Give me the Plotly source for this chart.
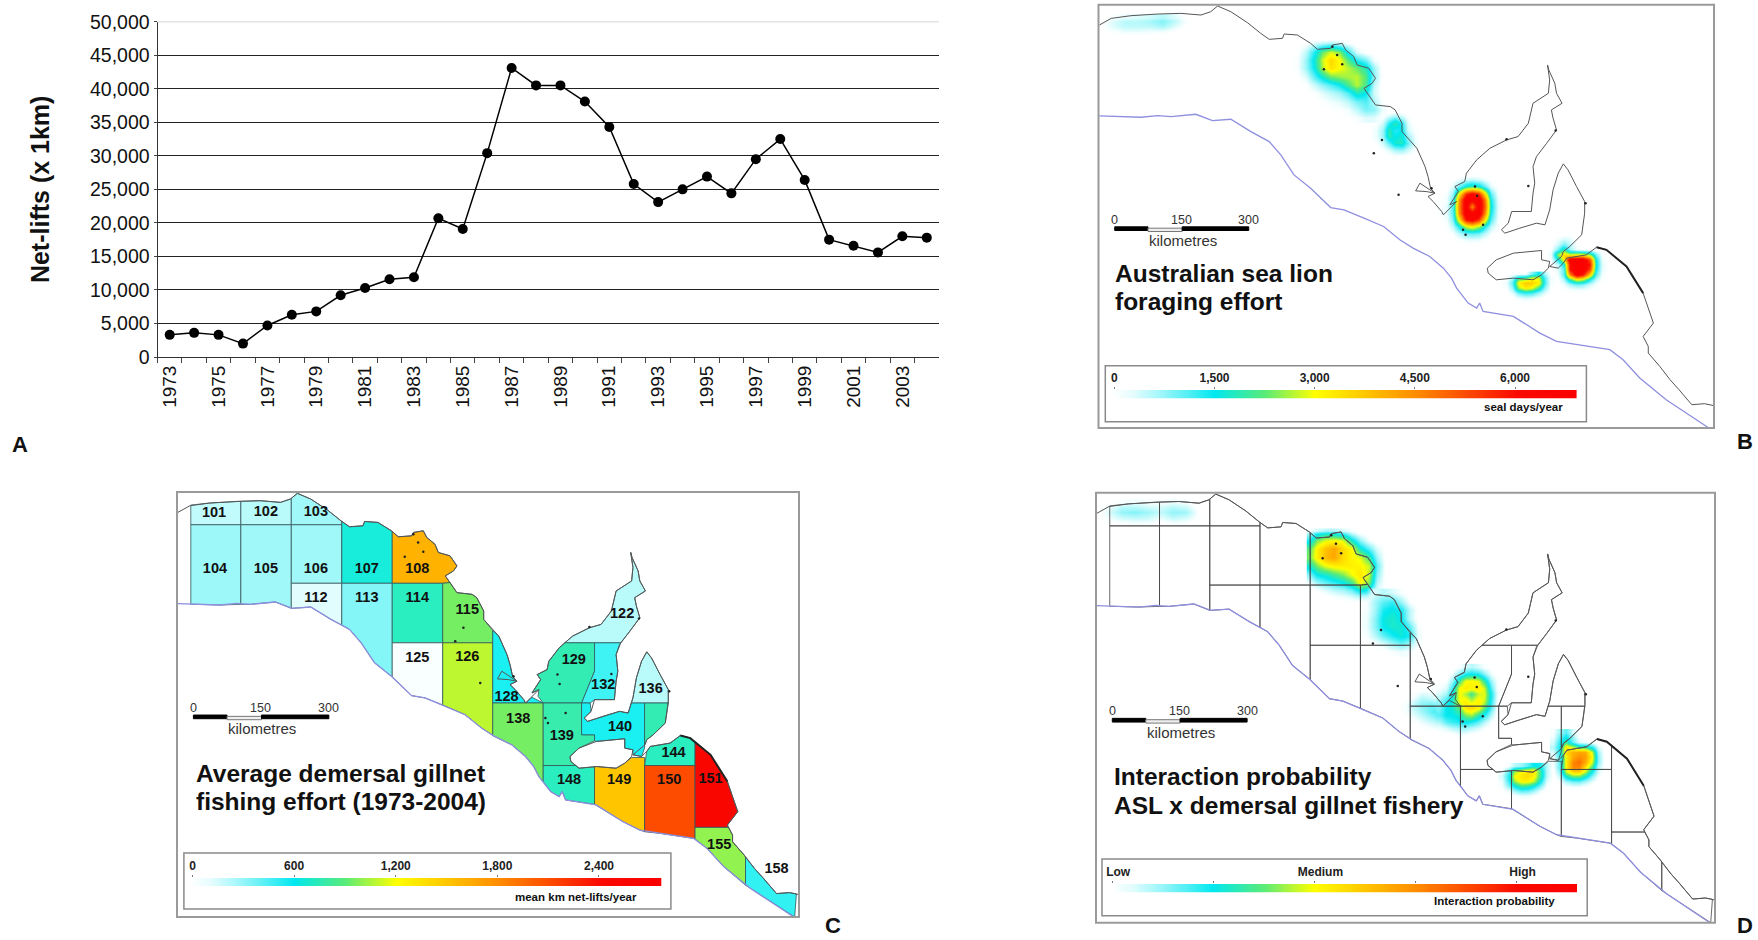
import numpy as np
import plotly.graph_objects as go
from plotly.colors import sample_colorscale

# ---------- Panel A: net-lifts per year ----------
YEARS = [str(y) for y in range(1973, 2005)]
NET_LIFTS = [3300, 3600, 3300, 2000, 4700, 6300, 6800, 9200, 10300, 11600, 11900, 20700, 19100, 30400,
             43100, 40500, 40500, 38100, 34300, 25800, 23100, 25000, 26900, 24400, 29500, 32500, 26400,
             17500, 16600, 15600, 18000, 17800]
Y_TICKS = list(range(0, 50001, 5000))

# ---------- Map geometry (shared map coordinates) ----------
COAST_X = [22, 50, 96, 159, 213, 260, 283, 299, 330, 369, 400, 420, 451, 455, 486, 517, 533, 564, 568, 591, 599, 618,
           626, 653, 669, 661, 642, 653, 669, 704, 715, 731, 731, 766, 785, 792, 798, 808, 773, 763, 788, 808, 792,
           804, 824, 828, 839, 859, 843, 863, 855, 878, 882, 906, 937, 976, 1003, 1027, 1038, 1074, 1077, 1072, 1075,
           1089, 1093, 1106, 1081, 1085, 1093, 1070, 1046, 1038, 1042, 1038, 1034, 988, 980, 964, 972, 1007, 1046,
           1066, 1077, 1085, 1097, 1109, 1120, 1140, 1159, 1159, 1152, 1124, 1109, 1105, 1077, 1097, 1109, 1117, 1163,
           1187, 1210, 1257, 1296, 1320, 1296, 1308, 1308, 1335, 1359, 1380, 1410, 1440, 1462]
COAST_Y = [75, 55, 47, 42, 40, 45, 35, 18, 35, 68, 100, 118, 115, 102, 105, 130, 148, 145, 135, 130, 150, 170,
           195, 205, 235, 250, 265, 285, 315, 320, 330, 370, 395, 445, 500, 530, 565, 580, 550, 573, 575, 580, 590,
           605, 635, 645, 630, 605, 615, 575, 560, 545, 520, 480, 445, 420, 410, 370, 310, 280, 240, 195, 210,
           250, 280, 310, 330, 355, 390, 430, 470, 500, 550, 580, 635, 635, 670, 690, 700, 685, 670,
           675, 630, 570, 520, 492, 510, 560, 605, 640, 705, 740, 755, 770, 800, 805, 790, 775, 765,
           742, 750, 800, 880, 970, 1010, 1040, 1060, 1100, 1140, 1170, 1215, 1212, 1218]
ISLAND_X = [931, 952, 992, 1058, 1058, 1077, 1074, 1058, 1038, 992, 952, 933, 931]
ISLAND_Y = [805, 780, 760, 752, 780, 785, 805, 825, 840, 835, 840, 820, 805]
COORONG_X = [1187, 1210, 1257, 1296]
COORONG_Y = [742, 750, 800, 880]
SHELF_X = [22, 65, 120, 159, 190, 248, 287, 330, 377, 420, 447, 478, 517, 564, 595, 642, 688, 726, 757, 796, 828, 847,
           859, 886, 906, 913, 921, 992, 1023, 1054, 1093, 1140, 1218, 1249, 1288, 1350, 1450]
SHELF_Y = [348, 350, 352, 347, 350, 343, 362, 358, 395, 425, 465, 525, 565, 623, 630, 655, 680, 720, 745, 770, 805, 835,
           865, 910, 925, 910, 935, 950, 975, 1000, 1025, 1035, 1050, 1080, 1135, 1200, 1285]
DOTS_X = [548, 591, 579, 568, 684, 665, 723, 800, 902, 907, 874, 921, 880, 1027, 1161, 1091, 976]
DOTS_Y = [208, 193, 165, 140, 420, 460, 585, 565, 560, 588, 690, 675, 705, 558, 610, 392, 418]

# ---------- Panel C: fishing-effort cells ----------
CELL_IDS = ["101", "102", "103", "104", "105", "106", "107", "108", "112", "113", "114", "115", "122", "125", "126",
            "128", "129", "132", "136", "138", "139", "140", "141", "144", "148", "149", "150", "151", "155", "158"]
CELL_EFFORT = [150, 170, 230, 240, 230, 230, 650, 1600, 70, 300, 720, 950, 170, 15, 1080,
               560, 750, 470, 170, 950, 770, 560, 750, 720, 720, 1500, 2100, 2560, 1000, 500]
CELL_X = [
    [52, 52, 96, 168, 168], [168, 168, 213, 260, 283, 285, 285], [285, 285, 299, 330, 369, 400, 402, 402],
    [52, 168, 168, 120, 65, 52], [168, 285, 285, 248, 190, 168], [285, 402, 402, 285],
    [402, 402, 420, 451, 455, 486, 517, 519, 519, 402],
    [519, 533, 564, 568, 591, 599, 618, 626, 653, 669, 661, 642, 653, 636, 519],
    [285, 402, 402, 377, 330, 285], [402, 519, 519, 478, 447, 420, 402], [519, 636, 636, 519],
    [636, 653, 669, 704, 715, 731, 731, 752, 752, 636],
    [919, 937, 976, 1003, 1027, 1038, 1074, 1077, 1072, 1075, 1089, 1093, 1106, 1081, 1085, 1093, 1070, 1049],
    [519, 636, 636, 595, 564, 519], [636, 752, 752, 726, 688, 642, 636],
    [752, 752, 766, 785, 792, 798, 808, 792, 804, 824, 828, 843, 869, 752],
    [919, 988, 988, 958, 869, 857, 859, 843, 863, 855, 878, 882, 906],
    [988, 1049, 1038, 1042, 1038, 1034, 988, 978, 958, 988],
    [1073, 1077, 1085, 1097, 1109, 1120, 1140, 1159, 1159, 1159],
    [752, 869, 869, 859, 847, 828, 796, 757, 752],
    [869, 958, 958, 988, 988, 952, 931, 933, 945, 869],
    [958, 978, 980, 964, 972, 1007, 1046, 1066, 1073, 1104, 1104, 1097, 1077, 1077, 1058, 1058, 992, 988, 988, 958],
    [1104, 1159, 1152, 1124, 1109, 1104],
    [1104, 1109, 1117, 1163, 1187, 1210, 1221, 1221],
    [869, 945, 952, 988, 988, 921, 913, 906, 886, 869],
    [988, 992, 1038, 1058, 1074, 1104, 1104, 1093, 1054, 1023, 988],
    [1104, 1221, 1221, 1218, 1140, 1104],
    [1221, 1257, 1296, 1320, 1296, 1298, 1221],
    [1221, 1298, 1308, 1308, 1335, 1338, 1338, 1288, 1249, 1221],
    [1338, 1359, 1380, 1410, 1440, 1456, 1452, 1350, 1338],
]
CELL_Y = [
    [112, 53, 47, 42, 112], [112, 42, 40, 45, 35, 33, 112], [112, 33, 18, 35, 68, 100, 102, 112],
    [112, 112, 350, 352, 350, 350], [112, 112, 362, 343, 350, 350], [112, 112, 287, 287],
    [112, 102, 118, 115, 102, 105, 130, 132, 287, 287],
    [132, 148, 145, 135, 130, 150, 170, 195, 205, 235, 250, 265, 285, 287, 287],
    [287, 287, 412, 395, 358, 362], [287, 287, 567, 525, 465, 425, 412], [287, 287, 465, 465],
    [287, 285, 315, 320, 330, 370, 395, 428, 465, 465],
    [465, 445, 420, 410, 370, 310, 280, 240, 195, 210, 250, 280, 310, 330, 355, 390, 430, 465],
    [465, 465, 651, 630, 623, 567], [465, 465, 742, 720, 680, 655, 651],
    [465, 428, 445, 500, 530, 565, 580, 590, 605, 635, 645, 628, 645, 645],
    [465, 465, 550, 645, 645, 625, 605, 615, 575, 560, 545, 520, 480],
    [465, 465, 500, 550, 580, 635, 635, 645, 645, 550],
    [645, 630, 570, 520, 492, 510, 560, 605, 640, 645],
    [645, 645, 880, 865, 835, 805, 770, 745, 743],
    [645, 645, 740, 740, 758, 780, 805, 820, 832, 832],
    [645, 645, 670, 690, 700, 685, 670, 675, 645, 645, 780, 805, 800, 785, 780, 752, 760, 758, 740, 740],
    [645, 645, 705, 740, 755, 770],
    [832, 790, 775, 765, 742, 750, 763, 832],
    [832, 832, 840, 836, 948, 935, 910, 925, 910, 880],
    [836, 835, 840, 825, 808, 808, 1030, 1025, 1000, 975, 948],
    [832, 832, 1052, 1050, 1035, 1030],
    [763, 800, 880, 970, 1010, 1017, 1017],
    [1017, 1017, 1040, 1060, 1100, 1106, 1190, 1135, 1080, 1052],
    [1106, 1140, 1170, 1215, 1212, 1216, 1285, 1200, 1190],
]
LABEL_X = [106, 226, 342, 108, 226, 342, 460, 577, 342, 460, 577, 693, 1052, 577, 693,
           784, 940, 1008, 1118, 811, 912, 1047, None, 1171, 929, 1045, 1161, 1257, 1277, 1410]
LABEL_Y = [78, 76, 75, 244, 244, 244, 244, 244, 332, 332, 332, 367, 380, 512, 510,
           627, 519, 592, 604, 695, 745, 719, None, 797, 875, 875, 875, 872, 1070, 1142]

# ---------- Panel B: sea lion foraging (seal days/year) read as coarse tables ----------
B_TICKS = [0, 1500, 3000, 4500, 6000]
B1_X = [485, 505, 525, 545, 565, 585, 605, 625, 645, 665, 685]
B1_Y = [115, 130, 155, 180, 205, 230, 255, 280, 305, 330, 355]
B1_Z = [[0, 0, 0, 0, 0, 0, 0, 0, 0, 0, 0],
        [0, 50, 300, 500, 600, 400, 100, 0, 0, 0, 0],
        [50, 500, 1300, 2300, 2800, 2400, 1300, 300, 50, 0, 0],
        [100, 700, 1600, 2800, 3500, 3000, 2200, 1300, 900, 200, 0],
        [100, 700, 1500, 2700, 3400, 3000, 2700, 2300, 1800, 700, 0],
        [50, 300, 1000, 1700, 2300, 2500, 2600, 2700, 2200, 800, 0],
        [0, 100, 400, 800, 1100, 1500, 2100, 2700, 2100, 500, 0],
        [0, 0, 100, 300, 500, 700, 1100, 1800, 1500, 400, 0],
        [0, 0, 0, 100, 200, 300, 500, 900, 1100, 600, 100],
        [0, 0, 0, 0, 50, 100, 200, 500, 900, 800, 200],
        [0, 0, 0, 0, 0, 0, 50, 150, 300, 300, 100]]
B2_X = [670, 685, 700, 715, 730, 745, 760, 775]
B2_Y = [335, 350, 370, 390, 410, 430, 450, 470]
B2_Z = [[0, 0, 50, 100, 50, 0, 0, 0],
        [0, 100, 400, 700, 400, 100, 0, 0],
        [100, 400, 1300, 1900, 1300, 300, 0, 0],
        [200, 700, 1900, 1300, 1500, 400, 100, 0],
        [200, 700, 1900, 1500, 1700, 700, 200, 0],
        [100, 400, 1000, 1700, 1800, 1000, 300, 0],
        [0, 100, 300, 600, 700, 400, 100, 0],
        [0, 0, 50, 100, 100, 50, 0, 0]]
B3_X = [820, 835, 850, 865, 880, 895, 910, 925, 940, 955, 970]
B3_Y = [525, 540, 560, 580, 600, 620, 640, 660, 680, 700, 720, 735]
B3_Z = [[0, 0, 0, 0, 50, 100, 50, 0, 0, 0, 0],
        [0, 0, 50, 200, 400, 500, 400, 200, 50, 0, 0],
        [0, 50, 300, 900, 1700, 2000, 1700, 1000, 300, 50, 0],
        [0, 150, 700, 3000, 5500, 6200, 5500, 3300, 1000, 150, 0],
        [50, 200, 1000, 4300, 6800, 6500, 6800, 4700, 1400, 250, 50],
        [100, 300, 1200, 4500, 6800, 4500, 6800, 5000, 1600, 300, 50],
        [100, 300, 1100, 4300, 6800, 6500, 6800, 4500, 1400, 250, 50],
        [50, 200, 900, 3300, 6000, 6600, 5500, 3300, 1100, 200, 0],
        [0, 100, 500, 1400, 2800, 3200, 2600, 1400, 500, 100, 0],
        [0, 0, 150, 500, 900, 1000, 900, 500, 150, 0, 0],
        [0, 0, 50, 100, 250, 300, 250, 100, 50, 0, 0],
        [0, 0, 0, 0, 0, 0, 0, 0, 0, 0, 0]]
B4_X = [960, 975, 990, 1005, 1020, 1035, 1050, 1065, 1080]
B4_Y = [822, 835, 850, 865, 880, 895, 910]
B4_Z = [[0, 0, 50, 100, 100, 800, 1500, 600, 50],
        [0, 100, 700, 1900, 2100, 2800, 2800, 1100, 150],
        [50, 250, 1100, 3200, 3700, 3600, 3200, 1200, 150],
        [0, 150, 800, 2600, 3300, 3000, 2000, 800, 100],
        [0, 50, 300, 1000, 1300, 1200, 700, 300, 50],
        [0, 0, 50, 250, 350, 300, 150, 50, 0],
        [0, 0, 0, 0, 0, 0, 0, 0, 0]]
B5_X = [1080, 1095, 1110, 1125, 1140, 1155, 1170, 1185, 1200, 1215]
B5_Y = [705, 720, 735, 750, 765, 780, 795, 810, 825, 840, 855, 870, 885]
B5_Z = [[0, 0, 50, 100, 0, 0, 0, 0, 0, 0],
        [0, 200, 400, 300, 50, 0, 0, 0, 0, 0],
        [0, 400, 900, 500, 100, 0, 0, 0, 0, 0],
        [100, 900, 2000, 700, 200, 100, 50, 0, 0, 0],
        [200, 2500, 3500, 2800, 3000, 3000, 2300, 900, 150, 0],
        [100, 1500, 3300, 6800, 6800, 6800, 5200, 1500, 250, 50],
        [50, 500, 1500, 6000, 6800, 6800, 5800, 1700, 300, 50],
        [0, 300, 1100, 6000, 6800, 6800, 5300, 1500, 300, 50],
        [0, 200, 1100, 4500, 6800, 6000, 3600, 1100, 200, 0],
        [0, 100, 600, 1900, 3100, 2700, 1400, 500, 100, 0],
        [0, 0, 200, 600, 900, 800, 400, 150, 0, 0],
        [0, 0, 50, 150, 200, 200, 100, 50, 0, 0],
        [0, 0, 0, 0, 0, 0, 0, 0, 0, 0]]
B6_X = [20, 50, 80, 110, 140, 170, 200, 230]
B6_Y = [50, 65, 80, 95, 110]
B6_Z = [[0, 100, 250, 300, 400, 550, 300, 0],
        [0, 300, 550, 550, 650, 850, 500, 50],
        [0, 300, 500, 500, 500, 650, 300, 0],
        [0, 100, 250, 250, 200, 200, 50, 0],
        [0, 0, 0, 0, 0, 0, 0, 0]]

# ---------- Panel D: interaction probability (percent of scale) read as coarse tables ----------
D_TICKS = [0, 21.7, 43.5, 65.2, 87]
D_TICK_TEXT = ["Low", "", "Medium", "", "High"]
D1_X = [519, 535, 555, 575, 595, 615, 635, 655, 675, 695]
D1_Y = [125, 135, 155, 180, 205, 230, 255, 280, 300, 320, 340]
D1_Z = [[2, 5, 8, 8, 5, 2, 0, 0, 0, 0],
        [10, 20, 25, 22, 18, 8, 2, 0, 0, 0],
        [20, 35, 42, 45, 42, 25, 12, 3, 0, 0],
        [32, 46, 55, 60, 50, 44, 25, 15, 5, 0],
        [35, 46, 57, 60, 50, 45, 42, 30, 10, 0],
        [25, 35, 43, 46, 47, 46, 45, 40, 15, 0],
        [12, 22, 25, 30, 35, 43, 48, 40, 12, 0],
        [3, 10, 15, 18, 22, 30, 45, 35, 8, 0],
        [0, 2, 5, 8, 10, 15, 25, 20, 5, 0],
        [0, 0, 0, 2, 3, 5, 8, 8, 3, 0],
        [0, 0, 0, 0, 0, 0, 0, 0, 0, 0]]
D2_X = [650, 670, 690, 710, 730, 750, 770]
D2_Y = [310, 335, 360, 385, 410, 435, 460, 485]
D2_Z = [[0, 5, 8, 5, 2, 0, 0],
        [2, 10, 15, 18, 10, 2, 0],
        [2, 10, 20, 23, 20, 8, 0],
        [3, 12, 23, 25, 22, 8, 0],
        [3, 12, 22, 25, 24, 16, 2],
        [2, 8, 15, 20, 24, 20, 3],
        [0, 2, 5, 10, 14, 10, 2],
        [0, 0, 0, 2, 3, 2, 0]]
D3_X = [820, 835, 850, 865, 880, 895, 910, 925, 940, 955, 970]
D3_Y = [530, 550, 570, 590, 610, 630, 650, 670, 690, 710, 730]
D3_Z = [[0, 0, 0, 2, 5, 8, 5, 2, 0, 0, 0],
        [0, 0, 3, 12, 20, 22, 20, 12, 3, 0, 0],
        [0, 2, 10, 30, 43, 45, 42, 28, 10, 2, 0],
        [2, 5, 18, 43, 47, 45, 47, 40, 15, 2, 0],
        [5, 10, 22, 44, 38, 30, 40, 42, 20, 3, 0],
        [10, 18, 25, 43, 46, 40, 46, 40, 18, 2, 0],
        [12, 22, 24, 33, 48, 50, 45, 32, 15, 1, 0],
        [15, 22, 22, 25, 35, 38, 28, 20, 8, 0, 0],
        [8, 15, 18, 20, 22, 20, 15, 8, 2, 0, 0],
        [2, 5, 8, 10, 10, 8, 5, 2, 0, 0, 0],
        [0, 0, 0, 2, 2, 0, 0, 0, 0, 0, 0]]
D4_X = [965, 980, 995, 1010, 1025, 1040, 1055, 1070, 1085]
D4_Y = [820, 835, 850, 865, 880, 895, 910]
D4_Z = [[0, 2, 8, 10, 15, 22, 20, 8, 0],
        [2, 15, 36, 44, 48, 48, 28, 8, 0],
        [5, 20, 44, 48, 50, 46, 28, 8, 0],
        [3, 18, 38, 46, 46, 40, 22, 5, 0],
        [2, 12, 22, 30, 28, 22, 12, 2, 0],
        [0, 3, 10, 15, 14, 10, 3, 0, 0],
        [0, 0, 1, 3, 3, 1, 0, 0, 0]]
D5_X = [1085, 1100, 1115, 1130, 1145, 1160, 1175, 1190, 1205]
D5_Y = [720, 735, 750, 765, 780, 795, 810, 825, 840, 855, 870, 885]
D5_Z = [[2, 10, 15, 5, 0, 0, 0, 0, 0],
        [3, 15, 22, 10, 2, 0, 0, 0, 0],
        [5, 20, 28, 14, 5, 3, 2, 0, 0],
        [8, 22, 48, 40, 30, 28, 20, 5, 0],
        [5, 22, 50, 58, 60, 60, 40, 10, 0],
        [3, 18, 46, 60, 65, 62, 44, 12, 0],
        [2, 16, 46, 66, 70, 60, 40, 12, 0],
        [2, 16, 46, 66, 66, 50, 30, 8, 0],
        [0, 12, 38, 50, 50, 38, 20, 5, 0],
        [0, 6, 22, 30, 30, 22, 10, 2, 0],
        [0, 2, 8, 12, 12, 8, 3, 0, 0],
        [0, 0, 1, 2, 2, 1, 0, 0, 0]]
D6_X = [740, 760, 780, 800, 820, 840]
D6_Y = [600, 620, 640, 660, 680, 700, 720]
D6_Z = [[0, 0, 2, 2, 0, 0],
        [0, 3, 8, 6, 3, 2],
        [2, 8, 12, 14, 12, 10],
        [2, 6, 10, 15, 18, 15],
        [0, 3, 6, 10, 14, 12],
        [0, 0, 2, 4, 6, 5],
        [0, 0, 0, 0, 1, 1]]
D7_X = [20, 50, 80, 110, 140, 170, 200, 230, 260]
D7_Y = [40, 55, 70, 85, 100, 115]
D7_Z = [[0, 0, 2, 3, 2, 2, 3, 2, 0],
        [0, 3, 8, 8, 6, 5, 8, 6, 0],
        [0, 5, 11, 12, 10, 7, 11, 10, 1],
        [0, 3, 7, 8, 7, 4, 8, 6, 1],
        [0, 1, 2, 3, 3, 1, 3, 2, 0],
        [0, 0, 0, 0, 0, 0, 0, 0, 0]]

# ---------- Text ----------
TITLE_B = ["Australian sea lion", "foraging effort"]
TITLE_C = ["Average demersal gillnet", "fishing effort (1973-2004)"]
TITLE_D = ["Interaction probability", "ASL x demersal gillnet fishery"]
C_TICKS = [0, 600, 1200, 1800, 2400]

FONT = "Liberation Sans"
W, H = 1758, 940
STOPS = [[0, "rgba(255,255,255,0)"], [0.04, "rgba(225,252,253,0.85)"], [0.217, "rgb(0,232,240)"],
         [0.326, "rgb(90,235,120)"], [0.435, "rgb(255,255,0)"], [0.652, "rgb(255,140,0)"],
         [0.87, "rgb(250,10,0)"], [1, "rgb(250,0,0)"]]
SOLID = [[0, "rgb(255,255,255)"]] + STOPS[1:]
FLAT = [[0, "rgb(255,255,255)"], [0.217, "rgb(10,238,240)"], [0.326, "rgb(90,235,120)"],
        [0.435, "rgb(255,255,0)"], [0.652, "rgb(255,140,0)"], [0.87, "rgb(250,10,0)"], [1, "rgb(250,0,0)"]]

fig = go.Figure()
layout = {}


def dom_x(a, b):
    return [a / W, b / W]


def dom_y(top, bottom):
    return [1 - bottom / H, 1 - top / H]


# Panel A
fig.add_trace(go.Scatter(x=YEARS, y=NET_LIFTS, mode="lines+markers", hoverinfo="skip",
                         line=dict(color="black", width=1.5), marker=dict(color="black", size=10)))
layout["xaxis"] = dict(domain=dom_x(157.5, 939), type="category", tickson="boundaries", tickmode="array",
                       tickvals=YEARS, ticktext=[y if i % 2 == 0 else "" for i, y in enumerate(YEARS)],
                       tickangle=-90, ticks="outside", ticklen=5, tickcolor="#444", showgrid=False,
                       showline=True, linecolor="#333", tickfont=dict(family=FONT, size=19, color="#111"),
                       anchor="y", range=[-0.5, 31.5], automargin=False)
layout["yaxis"] = dict(domain=dom_y(21.7, 357), range=[0, 50000], tickmode="array", tickvals=Y_TICKS,
                       tickformat=",", ticks="outside", ticklen=3, tickcolor="#444", showline=True,
                       linecolor="#333", gridcolor="#222", gridwidth=1, zeroline=False,
                       tickfont=dict(family=FONT, size=19.5, color="#111"), anchor="x", automargin=False,
                       title=dict(text="<b>Net-lifts (x 1km)</b>", font=dict(family=FONT, size=25, color="#111"),
                                  standoff=33))

MAPS = {"2": (1098.5, 1714, 4.7, 428), "3": (177, 799, 492, 917), "4": (1096, 1715, 492.7, 922.7)}
LEGENDS = {"5": (1114.3, 1576.6, 390, 398.3), "6": (192.5, 661.3, 878, 886), "7": (1112.2, 1577, 884, 892.3)}
for k, (x0, x1, y0, y1) in MAPS.items():
    layout["xaxis" + k] = dict(domain=dom_x(x0, x1), range=[20, 1462], visible=False, anchor="y" + k, automargin=False)
    layout["yaxis" + k] = dict(domain=dom_y(y0, y1), range=[1285, 14], visible=False, anchor="x" + k, automargin=False)


def heat(k, x, y, z, zmax):
    fig.add_trace(go.Heatmap(x=x, y=y, z=z, zmin=0, zmax=zmax, colorscale=STOPS, zsmooth="best", showscale=False,
                             hoverinfo="skip", xaxis="x" + k, yaxis="y" + k))


def line(k, x, y, color, width):
    fig.add_trace(go.Scatter(x=x, y=y, mode="lines", line=dict(color=color, width=width), hoverinfo="skip",
                             xaxis="x" + k, yaxis="y" + k))


def outline(k, shelf_color="#8f8fe0"):
    line(k, COAST_X, COAST_Y, "#555", 1)
    line(k, ISLAND_X, ISLAND_Y, "#555", 1)
    line(k, COORONG_X, COORONG_Y, "#222", 2)
    line(k, SHELF_X, SHELF_Y, shelf_color, 1.3)
    fig.add_trace(go.Scatter(x=DOTS_X, y=DOTS_Y, mode="markers", marker=dict(color="#222", size=2.5), hoverinfo="skip",
                             xaxis="x" + k, yaxis="y" + k))


# Panel B
for tx, ty, tz in [(B6_X, B6_Y, B6_Z), (B1_X, B1_Y, B1_Z), (B2_X, B2_Y, B2_Z), (B3_X, B3_Y, B3_Z),
                   (B4_X, B4_Y, B4_Z), (B5_X, B5_Y, B5_Z)]:
    heat("2", tx, ty, tz, 6900)
outline("2")

# Panel C
for cx, cy, val in zip(CELL_X, CELL_Y, CELL_EFFORT):
    col = sample_colorscale(FLAT, val / 2760)[0]
    fig.add_trace(go.Scatter(x=cx + cx[:1], y=cy + cy[:1], mode="lines", fill="toself", fillcolor=col,
                             line=dict(color="#33555a", width=0.8), hoverinfo="skip", xaxis="x3", yaxis="y3"))
outline("3")
fig.add_trace(go.Scatter(x=[v for v in LABEL_X if v], y=[v for v in LABEL_Y if v],
                         text=["<b>%s</b>" % c for c, v in zip(CELL_IDS, LABEL_X) if v], mode="text", hoverinfo="skip",
                         textfont=dict(family=FONT, size=14.5, color="#111"), xaxis="x3", yaxis="y3"))

# Panel D
for tx, ty, tz in [(D7_X, D7_Y, D7_Z), (D6_X, D6_Y, D6_Z), (D1_X, D1_Y, D1_Z), (D2_X, D2_Y, D2_Z),
                   (D3_X, D3_Y, D3_Z), (D4_X, D4_Y, D4_Z), (D5_X, D5_Y, D5_Z)]:
    heat("4", tx, ty, tz, 100)
for cx, cy in zip(CELL_X, CELL_Y):
    line("4", cx + cx[:1], cy + cy[:1], "#444", 0.8)
outline("4")


# Colour-scale legends
def ramp(k, top, ticks, text, shift):
    t = np.linspace(0, top, 240)
    fig.add_trace(go.Heatmap(x=t, y=[0, 1], z=[t, t], zmin=0, zmax=top, colorscale=SOLID, showscale=False,
                             hoverinfo="skip", xaxis="x" + k, yaxis="y" + k))
    x0, x1, y0, y1 = LEGENDS[k]
    layout["xaxis" + k] = dict(domain=dom_x(x0, x1), range=[0, top], side="top", tickmode="array", tickvals=ticks,
                               ticktext=["<b>%s</b>" % s if s else "" for s in text], ticks="outside", ticklen=2,
                               tickcolor="#777", showgrid=False, zeroline=False, showline=False, anchor="y" + k,
                               automargin=False, ticklabelshift=shift, tickfont=dict(family=FONT, size=12, color="#222"))
    layout["yaxis" + k] = dict(domain=dom_y(y0, y1), range=[0, 1], visible=False, anchor="x" + k, automargin=False)


ramp("5", 6922, B_TICKS, ["{:,}".format(v) for v in B_TICKS], 0)
ramp("6", 2768, C_TICKS, ["{:,}".format(v) for v in C_TICKS], 0)
ramp("7", 100, D_TICKS, D_TICK_TEXT, 6)

# Frames, boxes, scale bars
shapes = []
ann = []


def rect(x0, y0, x1, y1, color, width, fill=None):
    shapes.append(dict(type="rect", xref="paper", yref="paper", x0=x0 / W, x1=x1 / W, y0=1 - y0 / H, y1=1 - y1 / H,
                       line=dict(color=color, width=width), fillcolor=fill, layer="above"))


def text(x, y, s, size, bold=True, anchor="center", color="#111"):
    ann.append(dict(xref="paper", yref="paper", x=x / W, y=1 - y / H, text="<b>%s</b>" % s if bold else s,
                    showarrow=False, xanchor=anchor, yanchor="middle",
                    font=dict(family=FONT, size=size, color=color)))


shapes.append(dict(type="line", xref="paper", yref="paper", x0=157.5 / W, x1=939 / W, y0=1 - 21.7 / H, y1=1 - 21.7 / H,
                   line=dict(color="#e4e4e4", width=1.5)))

for k, (x0, x1, y0, y1) in MAPS.items():
    rect(x0, y0, x1, y1, "#9a9a9a", 2)
    sx = (x1 - x0) / 1442
    sy = (y1 - y0) / 1271
    px = lambda v: x0 + (v - 20) * sx
    py = lambda v: y0 + (v - 14) * sy
    rect(px(58), py(681), px(136), py(692), "black", 1, "black")
    rect(px(136), py(685), px(216), py(695), "#777", 1, "#eeeeee")
    rect(px(216), py(681), px(372), py(692), "black", 1, "black")
    for lab, v in [("0", 58), ("150", 214), ("300", 372)]:
        text(px(v), py(660), lab, 12.5, bold=False, color="#333")
    text(px(218), py(722), "kilometres", 15, bold=False, color="#333")

for lines, left, rows in [(TITLE_B, 1113.4, (273, 302)), (TITLE_C, 193.9, (773.3, 801.7)), (TITLE_D, 1112, (776.7, 805.7))]:
    for s, v in zip(lines, rows):
        text(left, v, s, 24.5, anchor="left")

rect(1105.3, 365.7, 1586.4, 421.7, "#8a8a8a", 1.5)
rect(183.9, 853, 670.9, 909, "#8a8a8a", 1.5)
rect(1102, 859, 1587.2, 915.7, "#8a8a8a", 1.5)
text(1523.7, 407, "seal days/year", 11.5)
text(576.3, 896.7, "mean km net-lifts/year", 11.5)
text(1494, 900.7, "Interaction probability", 11.5)
text(20, 445, "A", 22)
text(1745, 441, "B", 22)
text(832.6, 925, "C", 22)
text(1745, 925, "D", 22)

fig.update_layout(width=W, height=H, margin=dict(l=0, r=0, t=0, b=0), paper_bgcolor="white", plot_bgcolor="white",
                  showlegend=False, font=dict(family=FONT), shapes=shapes, annotations=ann, **layout)
fig.write_html("out.html", config={"displayModeBar": False},
               post_script="document.body.style.margin='0';document.documentElement.style.overflow='hidden';")
